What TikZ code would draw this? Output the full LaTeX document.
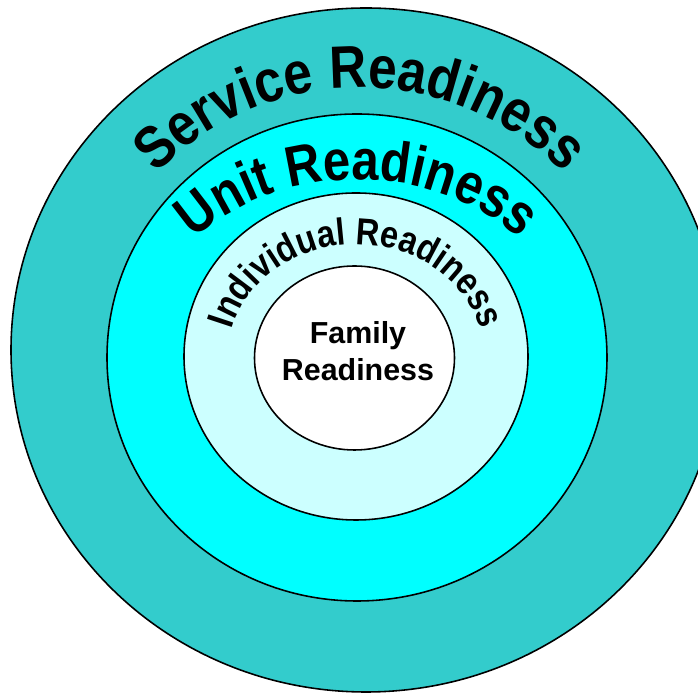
\documentclass[tikz,border=0pt]{standalone}
\usepackage{fontspec}
\setmainfont{Liberation Sans}
\newfontfamily\arcfont{Liberation Sans}[FakeStretch=0.86]
\usetikzlibrary{decorations.text}

\definecolor{servteal}{HTML}{33CCCC}
\definecolor{unitcyan}{HTML}{00FFFF}
\definecolor{indivcyan}{HTML}{CCFFFF}

\newcommand{\servfont}{\arcfont\bfseries\fontsize{34}{40}\selectfont}
\newcommand{\unitfont}{\arcfont\bfseries\fontsize{32.5}{38}\selectfont}
\newcommand{\indivfont}{\arcfont\bfseries\fontsize{21.5}{26}\selectfont}

\begin{document}
\begin{tikzpicture}[x=0.02cm,y=0.02cm,
		ring/.style={draw=black,line width=0.9pt},
		arctext/.style={decorate,decoration={text along path,text align=center,text={#1}}}]
		\useasboundingbox (0,0) rectangle (698,693);
		\clip (0,0) rectangle (698,693);
		\coordinate (c_s) at (366,343);
		\coordinate (c_st) at (360,343);
		\coordinate (c_u) at (357,335.5);
		\coordinate (c_i) at (356,336.5);
		\coordinate (c_f) at (354.5,335);
		% rings, outside in
		\draw[ring,fill=servteal] (c_s) ellipse [x radius=355,y radius=342];
		\draw[ring,fill=unitcyan] (c_u) ellipse [x radius=250,y radius=243.5];
		\draw[ring,fill=indivcyan] (c_i) ellipse [x radius=172,y radius=163.5];
		\draw[ring,fill=white] (c_f) ellipse [x radius=100,y radius=92];
		% curved labels
		\path[arctext={|\servfont|Service Readiness}]
			([shift={(178:275 and 262)}]c_st) arc[start angle=178,end angle=2,x radius=275,y radius=262];
		\path[arctext={|\unitfont|Unit Readiness}]
			([shift={(178:218 and 178)}]c_u) arc[start angle=178,end angle=2,x radius=218,y radius=178];
		\path[arctext={|\indivfont|Individual Readiness}]
			([shift={(180:128 and 112)}]c_i) arc[start angle=180,end angle=0,x radius=128,y radius=112];
		\node[font=\bfseries\fontsize{17.3}{21}\selectfont,align=center] (family) at (358,342) {Family\\Readiness};
	\end{tikzpicture}
\end{document}
